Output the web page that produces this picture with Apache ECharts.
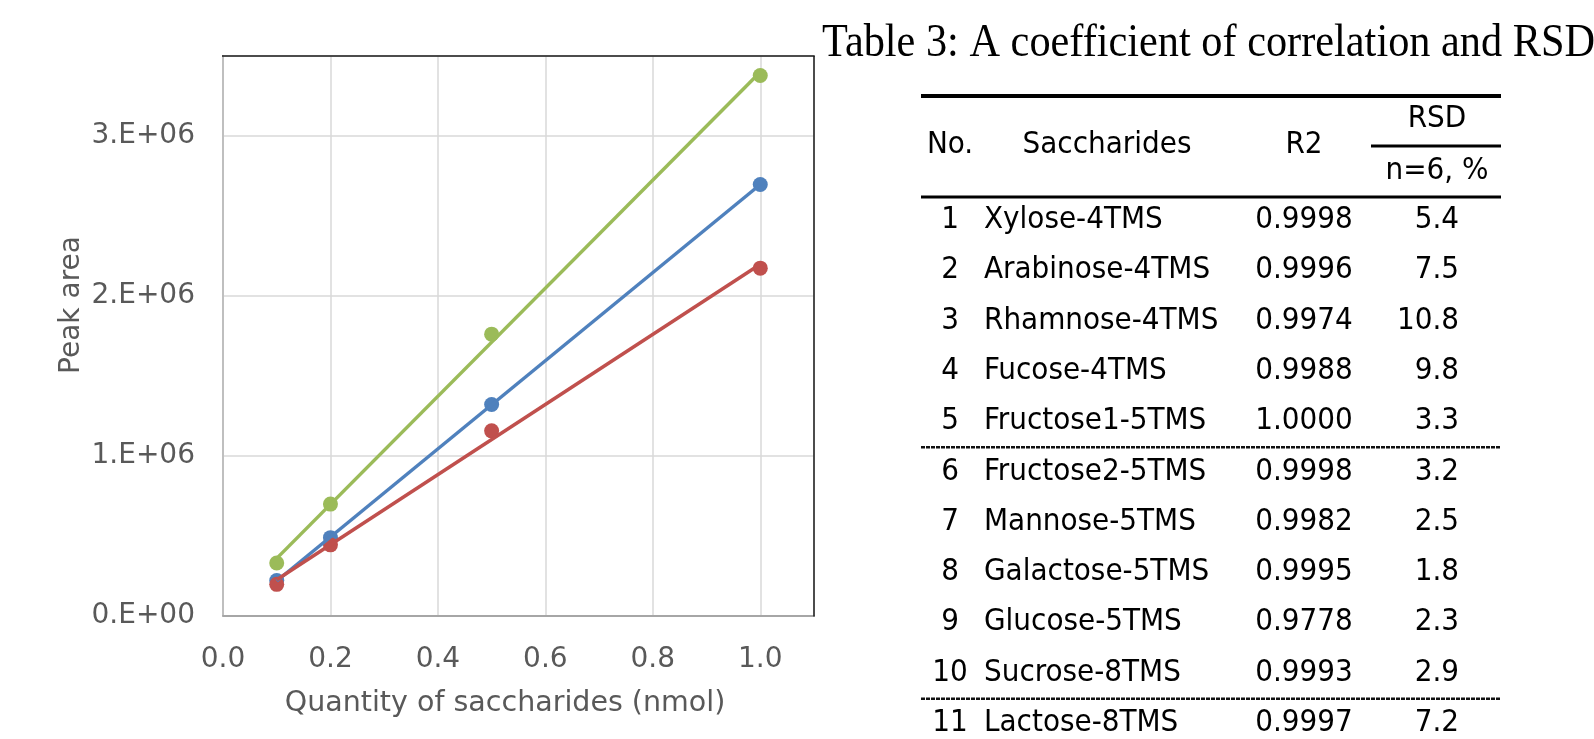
<!DOCTYPE html>
<html>
<head>
<meta charset="utf-8">
<title>Calibration of TMS saccharides</title>
<script src="https://cdn.jsdelivr.net/npm/echarts@6/dist/echarts.min.js"></script>
<style>
  html, body { margin: 0; padding: 0; background: #ffffff; }
  #chart { width: 1594px; height: 739px; }
</style>
</head>
<body>
<div id="chart"></div>
<script>
// Calibration points: quantity injected (nmol) vs. peak area
const quantities = [0.1, 0.2, 0.5, 1.0];
const greenArea = [0.328e6, 0.697e6, 1.760e6, 3.378e6];
const blueArea  = [0.219e6, 0.487e6, 1.320e6, 2.696e6];
const redArea   = [0.195e6, 0.442e6, 1.155e6, 2.173e6];

// Table 3 contents
const tableNo = [1, 2, 3, 4, 5, 6, 7, 8, 9, 10, 11];
const saccharides = [
  'Xylose-4TMS', 'Arabinose-4TMS', 'Rhamnose-4TMS', 'Fucose-4TMS', 'Fructose1-5TMS',
  'Fructose2-5TMS', 'Mannose-5TMS', 'Galactose-5TMS', 'Glucose-5TMS', 'Sucrose-8TMS',
  'Lactose-8TMS'
];
const r2Values  = [0.9998, 0.9996, 0.9974, 0.9988, 1.0000, 0.9998, 0.9982, 0.9995, 0.9778, 0.9993, 0.9997];
const rsdValues = [5.4, 7.5, 10.8, 9.8, 3.3, 3.2, 2.5, 1.8, 2.3, 2.9, 7.2];
const groupBreaks = [5, 10]; // dashed rule drawn after these rows

const colors = { green: '#9BBB59', blue: '#4F81BD', red: '#C0504D' };

// Least-squares linear trendline spanning the measured range
function trendline(xs, ys) {
  const n = xs.length;
  const mx = xs.reduce((s, v) => s + v, 0) / n;
  const my = ys.reduce((s, v) => s + v, 0) / n;
  let sxy = 0, sxx = 0;
  for (let i = 0; i < n; i++) {
    sxy += (xs[i] - mx) * (ys[i] - my);
    sxx += (xs[i] - mx) * (xs[i] - mx);
  }
  const slope = sxy / sxx;
  const icpt = my - slope * mx;
  const x0 = Math.min(...xs), x1 = Math.max(...xs);
  return [[x0, icpt + slope * x0], [x1, icpt + slope * x1]];
}

function pairs(ys) { return quantities.map((x, i) => [x, ys[i]]); }

function sciLabel(v) {
  if (v === 0) return '0.E+00';
  const exp = Math.floor(Math.log10(Math.abs(v)));
  const mant = Math.round(v / Math.pow(10, exp));
  return mant + '.E+' + String(exp).padStart(2, '0');
}

const axisFont = 'DejaVu Sans';
const axisColor = '#595959';
const tableFont = '"DejaVu Sans Condensed", "DejaVu Sans", sans-serif';

// Plot frame
const plot = { left: 223, top: 56, right: 814, bottom: 615.5 };
const W = 1594, H = 739;

const chart = echarts.init(document.getElementById('chart'), null, { renderer: 'canvas' });

const seriesDefs = [
  { name: 'green', data: greenArea },
  { name: 'blue',  data: blueArea },
  { name: 'red',   data: redArea }
];

const series = [];
seriesDefs.forEach(d => {
  series.push({
    name: d.name, type: 'scatter', data: pairs(d.data),
    symbol: 'circle', symbolSize: 15, z: 2,
    itemStyle: { color: colors[d.name], opacity: 1 }, silent: true
  });
});
seriesDefs.forEach(d => {
  series.push({
    name: d.name + ' trend', type: 'line', data: trendline(quantities, d.data),
    showSymbol: false, symbol: 'none', z: 3, silent: true,
    lineStyle: { color: colors[d.name], width: 3.5 }
  });
});

// Table drawn with graphic elements
const tbl = {
  left: 921, right: 1501,
  topRule: 96, subRule: 146, headRule: 197,
  rowY0: 220, rowStep: 50.3,
  noX: 950, nameX: 984, r2X: 1304, rsdX: 1459, rsdHeadX: 1437
};
const tableEls = [];
function hline(x1, x2, y, w, dash, color) {
  tableEls.push({
    type: 'line', silent: true, z: 10,
    shape: { x1: x1, y1: y, x2: x2, y2: y },
    style: { stroke: color || '#000', lineWidth: w, lineDash: dash || null }
  });
}
function vline(x, y1, y2, w, color) {
  tableEls.push({
    type: 'line', silent: true, z: 10,
    shape: { x1: x, y1: y1, x2: x, y2: y2 },
    style: { stroke: color, lineWidth: w }
  });
}
function txt(s, x, y, align) {
  tableEls.push({
    type: 'text', x: x, y: y, silent: true,
    style: { text: s, font: '31px ' + tableFont, fill: '#000', align: align, verticalAlign: 'middle' }
  });
}
hline(tbl.left, tbl.right, tbl.topRule, 4);
hline(1371, tbl.right, tbl.subRule, 3);
hline(tbl.left, tbl.right, tbl.headRule, 3);
txt('No.', tbl.noX, 145, 'center');
txt('Saccharides', 1107, 145, 'center');
txt('R2', tbl.r2X, 145, 'center');
txt('RSD', tbl.rsdHeadX, 119, 'center');
txt('n=6, %', tbl.rsdHeadX, 171, 'center');
tableNo.forEach((no, i) => {
  const y = tbl.rowY0 + tbl.rowStep * i;
  txt(String(no), tbl.noX, y, 'center');
  txt(saccharides[i], tbl.nameX, y, 'left');
  txt(r2Values[i].toFixed(4), tbl.r2X, y, 'center');
  txt(rsdValues[i].toFixed(1), tbl.rsdX, y, 'right');
});
groupBreaks.forEach(k => {
  const y = tbl.rowY0 + tbl.rowStep * (k - 0.5) + 1;
  hline(tbl.left, tbl.right, y, 2.5, [4, 1], '#111');
});

// Dark top and right edges of the plot frame
hline(plot.left - 1, plot.right + 0.75, plot.top, 1.5, null, '#1a1a1a');
vline(plot.right, plot.top, plot.bottom + 1, 1.5, '#1a1a1a');

const option = {
  backgroundColor: '#ffffff',
  animation: false,
  grid: {
    left: plot.left, top: plot.top, right: W - plot.right, bottom: H - plot.bottom,
    show: false
  },
  xAxis: {
    type: 'value', min: 0, max: 1.1, interval: 0.2,
    axisLine: { show: true, onZero: false, lineStyle: { color: '#A6A6A6', width: 2 } },
    axisTick: { show: false },
    splitLine: { show: true, lineStyle: { color: '#D9D9D9', width: 1.5 } },
    axisLabel: {
      margin: 30, color: axisColor, fontFamily: axisFont, fontSize: 28,
      showMaxLabel: false,
      formatter: v => v.toFixed(1)
    }
  },
  yAxis: {
    type: 'value', min: 0, max: 3.5e6, interval: 1e6,
    axisLine: { show: true, lineStyle: { color: '#BFBFBF', width: 2 } },
    axisTick: { show: false },
    splitLine: { show: true, lineStyle: { color: '#D9D9D9', width: 1.5 } },
    axisLabel: {
      margin: 28, color: axisColor, fontFamily: axisFont, fontSize: 28,
      showMaxLabel: false,
      formatter: v => sciLabel(v)
    }
  },
  series: series,
  graphic: [
    {
      type: 'text', x: 71.7, y: 305, rotation: Math.PI / 2, silent: true,
      style: { text: 'Peak area', font: '28px ' + axisFont, fill: axisColor, align: 'center', verticalAlign: 'middle' }
    },
    {
      type: 'text', x: 505, y: 704, silent: true,
      style: { text: 'Quantity of saccharides (nmol)', font: '28.5px ' + axisFont, fill: axisColor, align: 'center', verticalAlign: 'middle' }
    },
    {
      type: 'text', x: 822, y: 44, scaleX: 0.92, silent: true,
      style: { text: 'Table 3: A coefficient of correlation and RSD', font: '46px "Liberation Serif", serif', fill: '#000', align: 'left', verticalAlign: 'middle' }
    }
  ].concat(tableEls)
};

chart.setOption(option);
</script>
</body>
</html>
